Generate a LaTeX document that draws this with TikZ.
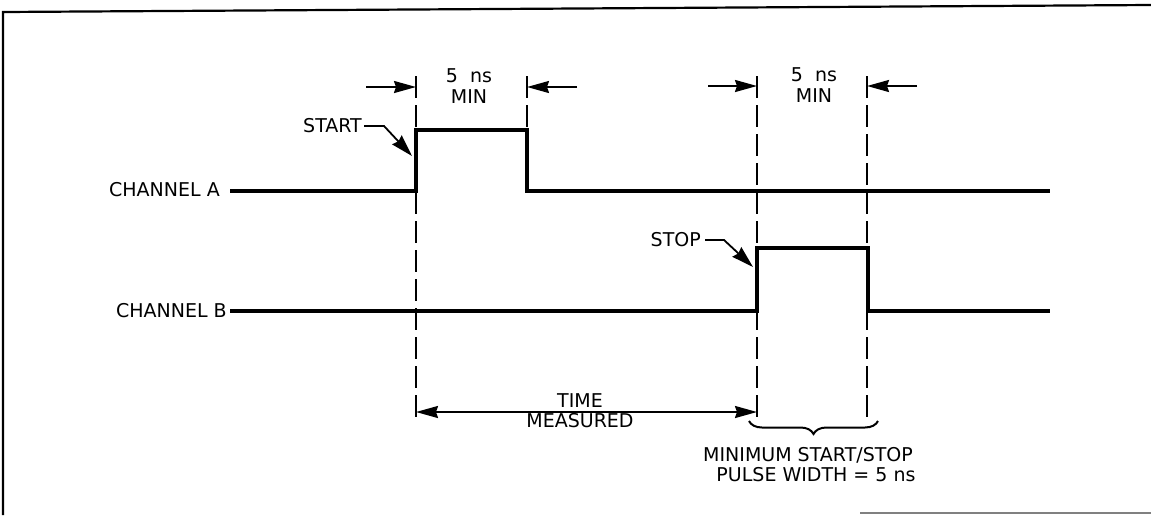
\documentclass[tikz,border=0pt]{standalone}
\usepackage{fontspec}
\setmainfont{DejaVu Sans}
\usetikzlibrary{arrows.meta,decorations.pathreplacing}
\begin{document}
\begin{tikzpicture}[x=1pt,y=-1pt,
  lbl/.style={font=\fontsize{19}{21}\selectfont, inner sep=0pt},
  wave/.style={line width=3.8pt, line join=miter},
  guide/.style={line width=2pt, dash pattern=on 22pt off 7pt},
  dimarrow/.style={line width=2pt, -{Stealth[length=22pt,width=12pt,inset=2pt]}},
  dimboth/.style={line width=2pt, {Stealth[length=22pt,width=12pt,inset=2pt]}-{Stealth[length=22pt,width=12pt,inset=2pt]}},
  leader/.style={line width=1.8pt, -{Stealth[length=22pt,width=13pt,inset=2pt]}}]
\useasboundingbox (0,0) rectangle (1151,515);
% frame
\draw[line width=2.2pt] (3,515) -- (3,12) -- (1151,5);
\draw[line width=1.5pt, gray] (860,513) -- (1151,513);

% labels
\node[lbl, anchor=east] (chA) at (220,190) {CHANNEL A};
\node[lbl, anchor=east] (chB) at (227,311) {CHANNEL B};
\node[lbl, anchor=east] (start) at (362,126) {START};
\node[lbl, anchor=east] (stop) at (701,240) {STOP};
\node[lbl] (ns1) at (469,76) {5\ \ ns};
\node[lbl] (min1) at (469,97) {MIN};
\node[lbl] (ns2) at (814,75) {5\ \ ns};
\node[lbl] (min2) at (814,96) {MIN};
\node[lbl] (time) at (580,401) {TIME};
\node[lbl] (meas) at (580,421) {MEASURED};
\node[lbl] (mn1) at (808,455) {MINIMUM START/STOP};
\node[lbl] (mn2) at (816,475) {PULSE WIDTH = 5 ns};

% waveform coordinates
\coordinate (a0) at (230,191);
\coordinate (a1) at (416,191);
\coordinate (a2) at (416,130);
\coordinate (a3) at (527,130);
\coordinate (a4) at (527,191);
\coordinate (a5) at (1050,191);
\coordinate (b0) at (230,311);
\coordinate (b1) at (757,311);
\coordinate (b2) at (757,248);
\coordinate (b3) at (868,248);
\coordinate (b4) at (868,311);
\coordinate (b5) at (1050,311);
\draw[wave] (a0) -- (a1) -- (a2) -- (a3) -- (a4) -- (a5);
\draw[wave] (b0) -- (b1) -- (b2) -- (b3) -- (b4) -- (b5);

% guide lines
\coordinate (g1t) at (416,76);  \coordinate (g1b) at (416,420);
\coordinate (g2t) at (527,76);  \coordinate (g2b) at (527,130);
\coordinate (g3t) at (757,76);  \coordinate (g3b) at (757,420);
\coordinate (g4t) at (867,76);  \coordinate (g4b) at (867,420);
\draw[guide] (g1t) -- (g1b);
\draw[guide] (g2t) -- (g2b);
\draw[guide] (g3t) -- (g3b);
\draw[guide] (g4t) -- (g4b);

% dimension arrows
\coordinate (d1s) at (366,87); \coordinate (d1e) at (416,87);
\coordinate (d2s) at (577,87); \coordinate (d2e) at (527,87);
\coordinate (d3s) at (708,86); \coordinate (d3e) at (757,86);
\coordinate (d4s) at (917,86); \coordinate (d4e) at (867,86);
\draw[dimarrow] (d1s) -- (d1e);
\draw[dimarrow] (d2s) -- (d2e);
\draw[dimarrow] (d3s) -- (d3e);
\draw[dimarrow] (d4s) -- (d4e);

% time measured
\coordinate (t1) at (416,412);
\coordinate (t2) at (757,412);
\draw[dimboth] (t1) -- (t2);

% leaders
\coordinate (sttip) at (412,156);
\coordinate (sptip) at (753,267);
\draw[leader] ([xshift=2pt]start.east) -- ++(20,0) -- (sttip);
\draw[leader] ([xshift=4pt]stop.east) -- ++(19,0) -- (sptip);

% brace
\coordinate (br1) at (749,421);
\coordinate (br2) at (878,421);
\draw[line width=2pt, decorate, decoration={brace, mirror, amplitude=13pt}] (br1) -- (br2);
\end{tikzpicture}
\end{document}
